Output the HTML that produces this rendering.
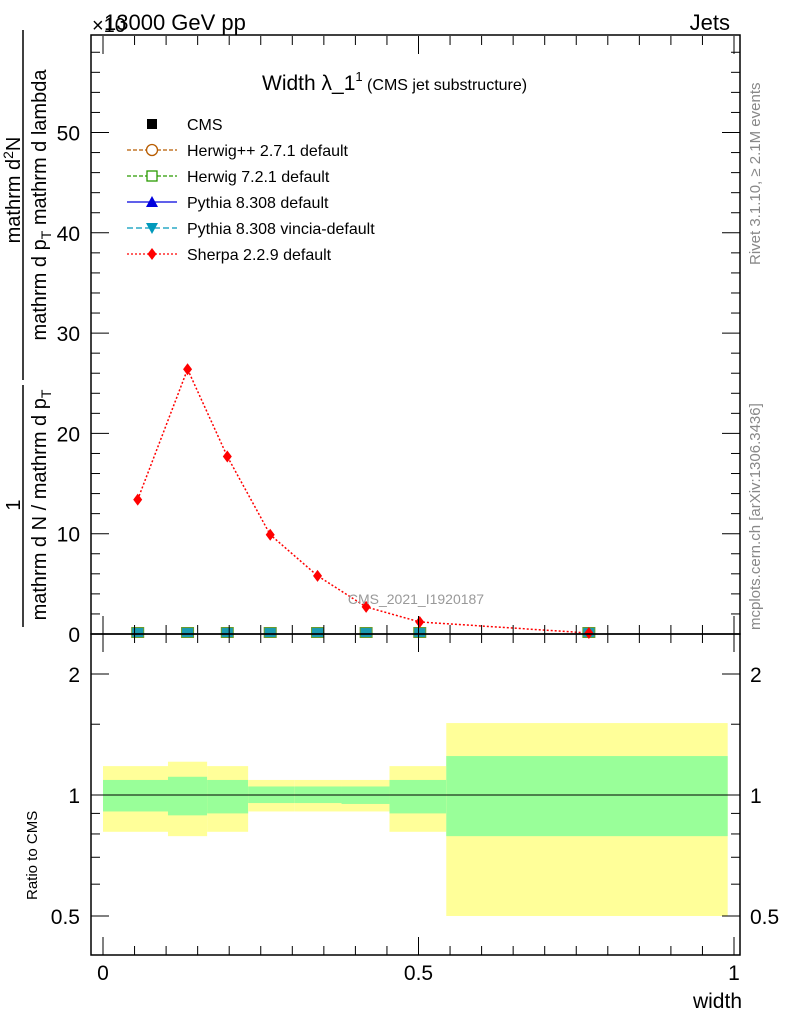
<!DOCTYPE html>
<html><head><meta charset="utf-8"><style>
body{margin:0;background:#fff}
svg text{font-family:"Liberation Sans",sans-serif}
</style></head><body>
<svg width="786" height="1024" xmlns="http://www.w3.org/2000/svg" id="svg">
<g id="bands"></g>
<g id="marks"></g>
<g id="axes"></g>
<rect x="91" y="35" width="649" height="599" fill="none" stroke="#000" stroke-width="1.5"/>
<rect x="91" y="634" width="649" height="321" fill="none" stroke="#000" stroke-width="1.5"/>
<text x="104" y="30" font-size="22">13000 GeV pp</text>
<text x="92" y="32" font-size="20">×10</text>
<text x="730" y="30" font-size="22" text-anchor="end">Jets</text>
<text x="262" y="90" font-size="21">Width λ_1<tspan font-size="13" dy="-9">1</tspan><tspan font-size="16" dy="9"> (CMS jet substructure)</tspan></text>
<text x="416" y="604" font-size="14" fill="#999" text-anchor="middle">CMS_2021_I1920187</text>
<text transform="translate(760,265) rotate(-90)" font-size="15" fill="#888">Rivet 3.1.10, ≥ 2.1M events</text>
<text transform="translate(760,630) rotate(-90)" font-size="15" fill="#888">mcplots.cern.ch [arXiv:1306.3436]</text>
<g font-size="20">
<text transform="translate(20,505) rotate(-90)" text-anchor="middle">1</text>
<line x1="23" y1="385" x2="23" y2="627" stroke="#000" stroke-width="1.5"/>
<text transform="translate(46,505) rotate(-90)" text-anchor="middle">mathrm d N / mathrm d p<tspan font-size="14" dy="5">T</tspan></text>
<text transform="translate(20,190) rotate(-90)" text-anchor="middle">mathrm d<tspan font-size="14" dy="-7">2</tspan><tspan dy="7">N</tspan></text>
<line x1="23" y1="30" x2="23" y2="380" stroke="#000" stroke-width="1.5"/>
<text transform="translate(46,205) rotate(-90)" text-anchor="middle">mathrm d p<tspan font-size="14" dy="5">T</tspan><tspan dy="-5"> mathrm d lambda</tspan></text>
</g>
<text transform="translate(37,900) rotate(-90)" font-size="15">Ratio to CMS</text>
<text x="742" y="1008" font-size="21" text-anchor="end">width</text>
<g font-size="16" id="legend"></g>
</svg>
<script>
const binEdges=[0,0.103,0.165,0.23,0.304,0.378,0.454,0.544,0.99];
const xPoints=[0.055,0.134,0.197,0.265,0.34,0.417,0.502,0.77];
const sherpa=[13.4,26.4,17.7,9.9,5.8,2.7,1.2,0.1];
const cmsVals=[0.05,0.05,0.05,0.05,0.05,0.05,0.05,0.05];
const yellowHi=[1.18,1.21,1.18,1.09,1.09,1.09,1.18,1.51];
const yellowLo=[0.81,0.79,0.81,0.91,0.91,0.91,0.81,0.5];
const greenHi=[1.09,1.11,1.09,1.05,1.05,1.05,1.09,1.25];
const greenLo=[0.91,0.89,0.90,0.955,0.955,0.95,0.90,0.79];
const mainTicks=[0,10,20,30,40,50];
const ratioTicks=[0.5,1,2];
const xTicks=[0,0.5,1];
const NS="http://www.w3.org/2000/svg";
const X=v=>103+v*631;
const Y=v=>634-v*10.03;
const R=v=>795-121*Math.log2(v);
function el(t,a,p){const e=document.createElementNS(NS,t);for(const k in a)e.setAttribute(k,a[k]);(p||document.getElementById('svg')).appendChild(e);return e;}
const bands=document.getElementById('bands'),marks=document.getElementById('marks'),axes=document.getElementById('axes');
for(let i=0;i<yellowHi.length;i++){
 const y=el('rect',{x:X(binEdges[i]),y:R(yellowHi[i]),width:X(binEdges[i+1])-X(binEdges[i]),height:R(yellowLo[i])-R(yellowHi[i]),fill:'#ffff99'},bands);
 
 
 const g=el('rect',{x:X(binEdges[i]),y:R(greenHi[i]),width:X(binEdges[i+1])-X(binEdges[i]),height:R(greenLo[i])-R(greenHi[i]),fill:'#99ff99'},bands);
 
 
}
const l1=el('line',{x1:91,x2:740,y1:R(1),y2:R(1),stroke:'#000','stroke-width':1},bands);


const pl=el('polyline',{points:xPoints.map((x,i)=>X(x)+','+Y(sherpa[i])).join(' '),fill:'none',stroke:'#f00','stroke-width':1.5,'stroke-dasharray':'2,2'},marks);


xPoints.forEach((x,i)=>{
 const s=el('rect',{x:X(x)-6,y:Y(cmsVals[i])-6,width:12,height:10,fill:'#1a9ab0',stroke:'#6a9a2a','stroke-width':1},marks);
 
 
 const cx=X(x),cy=Y(sherpa[i]);
 const d=el('polygon',{points:`${cx},${cy-6} ${cx+4.5},${cy} ${cx},${cy+6} ${cx-4.5},${cy}`,fill:'#f00'},marks);
 
 
});
function tick(x1,y1,x2,y2){el('line',{x1,y1,x2,y2,stroke:'#000','stroke-width':1},axes);}
for(let v=0;v<=58;v+=2){const y=Y(v),L=v%10==0?18:9;if(y<36)break;tick(91,y,91+L,y);tick(740,y,740-L,y);}
mainTicks.forEach(v=>{const t=el('text',{x:80,y:Y(v)+8,'font-size':21,'text-anchor':'end'},axes);t.textContent=v;});
[0.5,0.6,0.7,0.8,0.9,1,1.5,2].forEach(v=>{const y=R(v),L=(v==0.5||v==1||v==2)?18:9;tick(91,y,91+L,y);tick(740,y,740-L,y);});
ratioTicks.forEach(v=>{const t=el('text',{x:80,y:R(v)+8,'font-size':21,'text-anchor':'end'},axes);t.textContent=v;
 const t2=el('text',{x:750,y:R(v)+8,'font-size':21},axes);t2.textContent=v;});
for(let k=0;k<=20;k++){const v=k*0.05,x=X(v),L=k%10==0?18:9;tick(x,634,x,634-L);tick(x,36,x,36+L);tick(x,955,x,955-L);tick(x,634,x,634+L);}
xTicks.forEach(v=>{const t=el('text',{x:X(v),y:980,'font-size':21,'text-anchor':'middle'},axes);t.textContent=v;});
const leg=document.getElementById('legend');
const entries=[['CMS','#000','sq',''],['Herwig++ 2.7.1 default','#b85c00','circ','4,2'],['Herwig 7.2.1 default','#2a9a00','osq','4,2'],['Pythia 8.308 default','#0000dd','tri',''],['Pythia 8.308 vincia-default','#0099bb','itri','6,3'],['Sherpa 2.2.9 default','#f00','dia','2,2']];
entries.forEach((e,i)=>{const y=124+i*26;const g=el('g',{},leg);
 
 
 if(i>0)el('line',{x1:127,x2:177,y1:y,y2:y,stroke:e[1],'stroke-width':1.3,'stroke-dasharray':e[3]},g);
 const c=e[1];
 if(e[2]=='sq')el('rect',{x:147,y:y-5,width:10,height:10,fill:c},g);
 if(e[2]=='circ')el('circle',{cx:152,cy:y,r:5.5,fill:'#fff',stroke:c,'stroke-width':1.3},g);
 if(e[2]=='osq')el('rect',{x:147,y:y-5,width:10,height:10,fill:'#fff',stroke:c,'stroke-width':1.3},g);
 if(e[2]=='tri')el('polygon',{points:`152,${y-6} 158,${y+5} 146,${y+5}`,fill:c},g);
 if(e[2]=='itri')el('polygon',{points:`152,${y+6} 158,${y-5} 146,${y-5}`,fill:c},g);
 if(e[2]=='dia')el('polygon',{points:`152,${y-6} 156.5,${y} 152,${y+6} 147.5,${y}`,fill:c},g);
 const t=el('text',{x:187,y:y+6,'font-size':16},g);t.textContent=e[0];});
</script>
</body></html>
